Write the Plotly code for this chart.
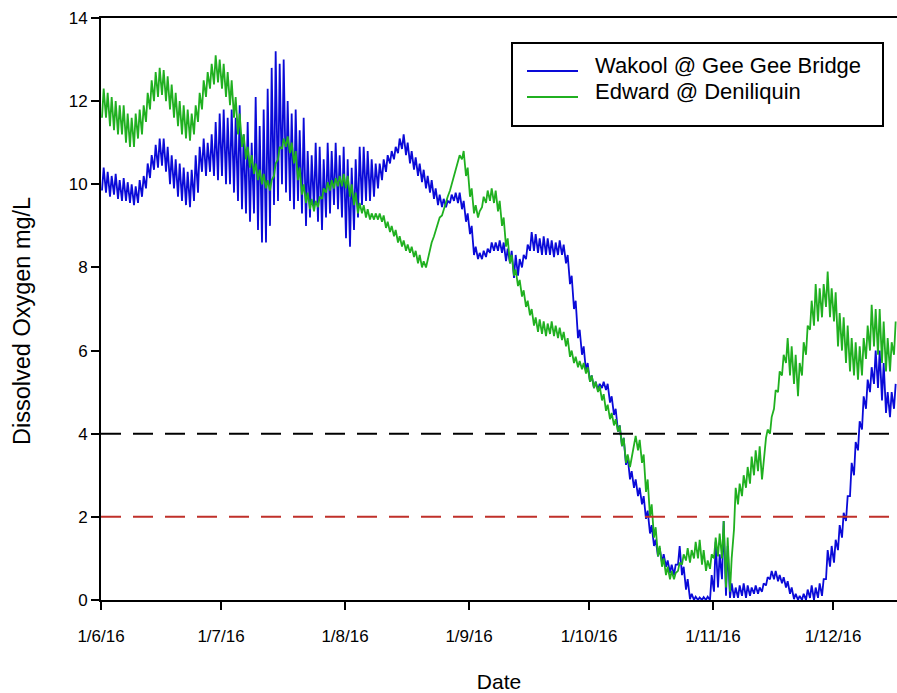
import pandas as pd
import plotly.graph_objects as go

# ---------------- data (daily max / min) ----------------
start_date = "2016-06-01"

edward_max = [
    # June
    12.3, 12.2, 12.1, 12.0, 11.9, 11.9, 11.7, 11.6, 11.7, 11.8,
    11.9, 12.2, 12.5, 12.7, 12.8, 12.75, 12.6, 12.4, 12.2, 12.0,
    11.9, 11.8, 11.7, 11.9, 12.2, 12.5, 12.7, 12.9, 13.1, 13.0,
    # July
    12.9, 12.7, 12.5, 12.1, 11.7, 11.2, 10.9, 10.7, 10.5, 10.35,
    10.25, 10.1, 10.1, 10.5, 10.9, 11.1, 11.15, 11.0, 10.8, 10.4,
    10.0, 9.8, 9.65, 9.6, 9.7, 9.9, 10.05, 10.1, 10.15, 10.2, 10.25,
    # August
    10.2, 10.0, 9.8, 9.55, 9.5, 9.4, 9.3, 9.3, 9.3, 9.25,
    9.1, 9.0, 8.9, 8.75, 8.65, 8.55, 8.5, 8.4, 8.3, 8.15,
    8.2, 8.6, 8.9, 9.2, 9.4, 9.7, 10.0, 10.35, 10.7, 10.8, 10.4,
    # September
    9.9, 9.5, 9.35, 9.7, 9.85, 9.9, 9.85, 9.6, 9.2, 8.7,
    8.3, 7.95, 7.7, 7.45, 7.2, 7.0, 6.8, 6.75, 6.7, 6.65,
    6.7, 6.6, 6.55, 6.45, 6.3, 6.0, 5.85, 5.75, 5.7, 5.6,
    # October
    5.4, 5.25, 5.15, 4.95, 4.7, 4.5, 4.35, 4.2, 3.9, 3.5,
    3.4, 3.95, 3.85, 3.5, 2.9, 2.3, 1.75, 1.3, 1.0, 0.8,
    0.7, 0.65, 0.9, 1.1, 1.25, 1.2, 1.4, 1.45, 1.2, 0.95, 1.1,
    # November
    1.5, 1.6, 1.9, 1.5, 1.0, 2.7, 2.8, 3.0, 3.2, 3.45,
    3.6, 3.7, 3.3, 4.1, 4.4, 5.05, 5.5, 5.9, 6.3, 6.1,
    5.9, 5.7, 6.2, 6.6, 7.2, 7.6, 7.5, 7.6, 7.9, 7.5,
    # December
    7.4, 6.9, 6.8, 6.6, 6.3, 6.2, 6.1, 6.3, 6.6, 7.1, 7.0, 7.0, 6.7, 6.3, 6.2, 6.7,
]
edward_min = [
    11.6, 11.6, 11.4, 11.3, 11.2, 11.2, 11.0, 10.9, 10.9, 11.1,
    11.2, 11.5, 11.8, 12.0, 12.1, 12.15, 12.0, 11.8, 11.6, 11.4,
    11.2, 11.1, 11.05, 11.2, 11.5, 11.8, 12.1, 12.3, 12.4, 12.45,
    12.3, 12.1, 11.9, 11.6, 11.2, 10.9, 10.6, 10.4, 10.25, 10.1,
    10.0, 9.9, 9.85, 10.2, 10.6, 10.85, 10.9, 10.75, 10.5, 10.1,
    9.75, 9.55, 9.4, 9.35, 9.45, 9.65, 9.8, 9.85, 9.9, 9.95, 9.95,
    9.9, 9.7, 9.5, 9.3, 9.3, 9.2, 9.15, 9.15, 9.15, 9.1,
    8.95, 8.85, 8.75, 8.6, 8.5, 8.4, 8.35, 8.25, 8.1, 8.0,
    8.0, 8.45, 8.75, 9.05, 9.25, 9.55, 9.85, 10.2, 10.5, 10.6, 10.2,
    9.7, 9.3, 9.2, 9.45, 9.55, 9.6, 9.55, 9.35, 9.0, 8.5,
    8.1, 7.8, 7.55, 7.3, 7.05, 6.85, 6.6, 6.45, 6.4, 6.35,
    6.4, 6.35, 6.3, 6.25, 6.1, 5.85, 5.7, 5.6, 5.55, 5.45,
    5.25, 5.1, 5.0, 4.8, 4.55, 4.35, 4.2, 4.05, 3.7, 3.3,
    3.2, 3.75, 3.6, 3.3, 2.6, 2.0, 1.5, 1.05, 0.8, 0.6,
    0.5, 0.5, 0.7, 0.85, 0.95, 0.9, 1.0, 1.0, 0.85, 0.7, 0.75,
    1.0, 1.05, 1.0, 0.3, 0.2, 1.7, 2.3, 2.5, 2.7, 2.8,
    3.0, 3.1, 2.9, 3.9, 4.0, 4.6, 5.0, 5.4, 5.7, 5.4,
    5.2, 4.9, 5.4, 5.9, 6.5, 6.6, 6.7, 6.8, 7.05, 6.8,
    6.7, 6.1, 6.0, 5.7, 5.5, 5.4, 5.3, 5.4, 5.8, 6.0, 6.1, 5.9, 5.7, 5.5, 5.5, 5.9,
]
wakool_max = [
    10.4, 10.3, 10.2, 10.25, 10.1, 10.15, 10.05, 10.0, 9.95, 10.1,
    10.2, 10.5, 10.7, 10.95, 11.1, 11.1, 10.9, 10.7, 10.6, 10.5,
    10.4, 10.3, 10.35, 10.7, 10.9, 11.1, 11.0, 11.2, 11.5, 11.7,
    11.8, 11.6, 11.8, 11.6, 11.9, 11.2, 11.5, 11.0, 12.1, 11.4,
    11.8, 12.3, 12.8, 13.2, 12.9, 13.0, 12.0, 11.7, 11.8, 11.3,
    11.6, 10.8, 10.7, 11.0, 10.9, 10.6, 11.0, 10.8, 11.0, 10.7, 10.9,
    10.6, 10.4, 10.6, 10.9, 10.9, 10.8, 10.6, 10.5, 10.5, 10.6,
    10.7, 10.8, 10.9, 11.1, 11.2, 11.0, 10.8, 10.65, 10.5, 10.35,
    10.2, 10.1, 9.9, 9.75, 9.65, 9.6, 9.75, 9.8, 9.8, 9.6, 9.3,
    9.0, 8.5, 8.35, 8.4, 8.45, 8.6, 8.6, 8.65, 8.6, 8.45,
    8.4, 8.3, 8.2, 8.3, 8.55, 8.85, 8.8, 8.7, 8.75, 8.7,
    8.65, 8.6, 8.65, 8.55, 8.3, 7.8, 7.2, 6.5, 6.1, 5.7,
    5.4, 5.25, 5.2, 5.25, 5.2, 4.9, 4.6, 4.2, 3.9, 3.45,
    3.1, 2.9, 2.7, 2.5, 2.15, 1.8, 1.45, 1.25, 1.1, 0.95,
    0.85, 0.85, 1.3, 0.8, 0.5, 0.15, 0.08, 0.06, 0.07, 0.08, 0.6,
    1.4, 1.1, 1.9, 1.3, 0.4, 0.3, 0.35, 0.4, 0.35, 0.3,
    0.35, 0.3, 0.4, 0.55, 0.7, 0.7, 0.6, 0.55, 0.45, 0.3,
    0.15, 0.1, 0.15, 0.25, 0.35, 0.3, 0.4, 0.5, 1.2, 1.3,
    1.45, 1.8, 2.1, 2.5, 3.3, 3.8, 4.3, 4.9, 5.3, 5.6, 6.0, 6.0, 5.7, 5.0, 5.0, 5.2,
]
wakool_min = [
    9.85, 9.8, 9.7, 9.75, 9.65, 9.6, 9.6, 9.55, 9.5, 9.55,
    9.7, 9.9, 10.15, 10.35, 10.4, 10.45, 10.3, 10.0, 9.9, 9.7,
    9.6, 9.5, 9.45, 9.6, 9.8, 10.3, 10.2, 10.3, 10.2, 10.1,
    10.2, 10.0, 10.0, 9.8, 9.6, 9.4, 9.3, 9.1, 9.3, 8.9,
    8.6, 8.6, 9.0, 9.5, 9.6, 10.0, 9.8, 9.6, 9.4, 9.6,
    9.3, 9.0, 9.2, 9.4, 9.1, 8.9, 9.2, 9.3, 9.5, 9.4, 9.2,
    8.7, 8.5, 8.9, 9.2, 9.5, 9.6, 9.6, 9.7, 9.9, 10.1,
    10.3, 10.5, 10.6, 10.75, 10.85, 10.7, 10.5, 10.35, 10.2, 10.05,
    9.9, 9.8, 9.65, 9.5, 9.45, 9.45, 9.55, 9.6, 9.55, 9.4, 9.1,
    8.8, 8.3, 8.2, 8.2, 8.25, 8.35, 8.4, 8.4, 8.35, 8.15,
    8.1, 7.75, 7.8, 8.0, 8.2, 8.4, 8.4, 8.35, 8.3, 8.3,
    8.3, 8.25, 8.3, 8.3, 8.1, 7.6, 7.0, 6.3, 5.9, 5.5,
    5.25, 5.1, 5.05, 5.1, 5.05, 4.75, 4.45, 4.05, 3.7, 3.25,
    2.9, 2.7, 2.5, 2.3, 1.95, 1.6, 1.3, 1.05, 0.9, 0.8,
    0.65, 0.6, 0.85, 0.6, 0.25, 0.02, 0.0, 0.0, 0.0, 0.0, 0.0,
    0.2, 0.3, 0.5, 0.1, 0.05, 0.05, 0.05, 0.1, 0.05, 0.1,
    0.15, 0.15, 0.2, 0.35, 0.5, 0.5, 0.45, 0.4, 0.3, 0.15,
    0.02, 0.0, 0.0, 0.0, 0.05, 0.0, 0.05, 0.1, 0.5, 0.8,
    0.9, 1.2, 1.5, 1.9, 2.5, 3.0, 3.6, 4.1, 4.6, 5.0, 5.2, 5.1, 4.8, 4.5, 4.4, 4.6,
]

tick_dates = ["2016-06-01", "2016-07-01", "2016-08-01", "2016-09-01",
              "2016-10-01", "2016-11-01", "2016-12-01"]
tick_labels = ["1/6/16", "1/7/16", "1/8/16", "1/9/16", "1/10/16", "1/11/16", "1/12/16"]

guide_black = 4
guide_red = 2

series_names = ["Wakool @ Gee Gee Bridge", "Edward @ Deniliquin"]
y_title = "Dissolved Oxygen mg/L"
x_title = "Date"

for arr in (edward_max, edward_min, wakool_max, wakool_min):
    assert len(arr) == 199, len(arr)

days = pd.date_range(start_date, periods=len(edward_max), freq="D")


def diel(day_list, lows, highs):
    xs, ys = [], []
    for d, lo, hi in zip(day_list, lows, highs):
        xs.append(d + pd.Timedelta(hours=6))
        ys.append(lo)
        xs.append(d + pd.Timedelta(hours=16))
        ys.append(hi)
    return xs, ys


wx, wy = diel(days, wakool_min, wakool_max)
ex, ey = diel(days, edward_min, edward_max)

BLUE = "#0a0ad8"
GREEN = "#20b020"
RED = "#c0302a"
FONT = "Liberation Sans, Arial, sans-serif"
colors = [BLUE, GREEN]

fig = go.Figure()
fig.add_trace(go.Scatter(x=wx, y=wy, mode="lines", name=series_names[0],
                         line=dict(color=BLUE, width=1.8), showlegend=False))
fig.add_trace(go.Scatter(x=ex, y=ey, mode="lines", name=series_names[1],
                         line=dict(color=GREEN, width=1.8), showlegend=False))

fig.add_hline(y=guide_black, line=dict(color="black", width=2, dash="20px,12px"))
fig.add_hline(y=guide_red, line=dict(color=RED, width=2, dash="20px,12px"))

# ---- legend box (drawn in plot-area fractions) ----
L, PW = 101.0, 796.0
T, PH = 18.0, 582.0


def px(xp):
    return (xp - L) / PW


def py(yp):
    return (T + PH - yp) / PH


fig.add_shape(type="rect", xref="paper", yref="paper",
              x0=px(512), x1=px(883), y0=py(126), y1=py(43),
              line=dict(color="black", width=2), fillcolor="white", layer="above")
for i, (name, col) in enumerate(zip(series_names, colors)):
    line_y = [71, 97][i]
    text_y = [65, 91][i]
    fig.add_shape(type="line", xref="paper", yref="paper",
                  x0=px(527), x1=px(578), y0=py(line_y), y1=py(line_y),
                  line=dict(color=col, width=2), layer="above")
    fig.add_annotation(xref="paper", yref="paper", x=px(593), y=py(text_y),
                       text=name, showarrow=False, xanchor="left", yanchor="middle",
                       font=dict(size=22, family=FONT, color="black"))

# y-axis title as rotated text
fig.add_annotation(xref="paper", yref="paper", x=px(22), y=py(321),
                   text=y_title, textangle=-90, showarrow=False,
                   xanchor="center", yanchor="middle",
                   font=dict(size=23.5, family=FONT, color="black"))

fig.update_layout(
    width=897, height=693,
    margin=dict(l=101, r=0, t=18, b=93, autoexpand=False),
    paper_bgcolor="white", plot_bgcolor="white",
    font=dict(family=FONT, size=17, color="black"),
    showlegend=False,
    xaxis=dict(
        type="date", automargin=False,
        range=["2016-06-01", "2016-12-17"],
        tickvals=tick_dates, ticktext=tick_labels,
        showgrid=False, zeroline=False,
        showline=True, linecolor="black", linewidth=2, mirror=True,
        ticks="outside", ticklen=8, tickwidth=2, tickcolor="black",
        tickfont=dict(size=17), ticklabelstandoff=12,
        title=dict(text=x_title, font=dict(size=21), standoff=33),
    ),
    yaxis=dict(
        range=[0, 14], dtick=2, tick0=0, automargin=False,
        showgrid=False, zeroline=False,
        showline=True, linecolor="black", linewidth=2,
        ticks="outside", ticklen=8, tickwidth=2, tickcolor="black",
        tickfont=dict(size=17),
    ),
)

fig.write_html("out.html",
               config={"displayModeBar": False},
               post_script="document.body.style.margin='0px';"
                           "document.body.style.overflow='hidden';")
